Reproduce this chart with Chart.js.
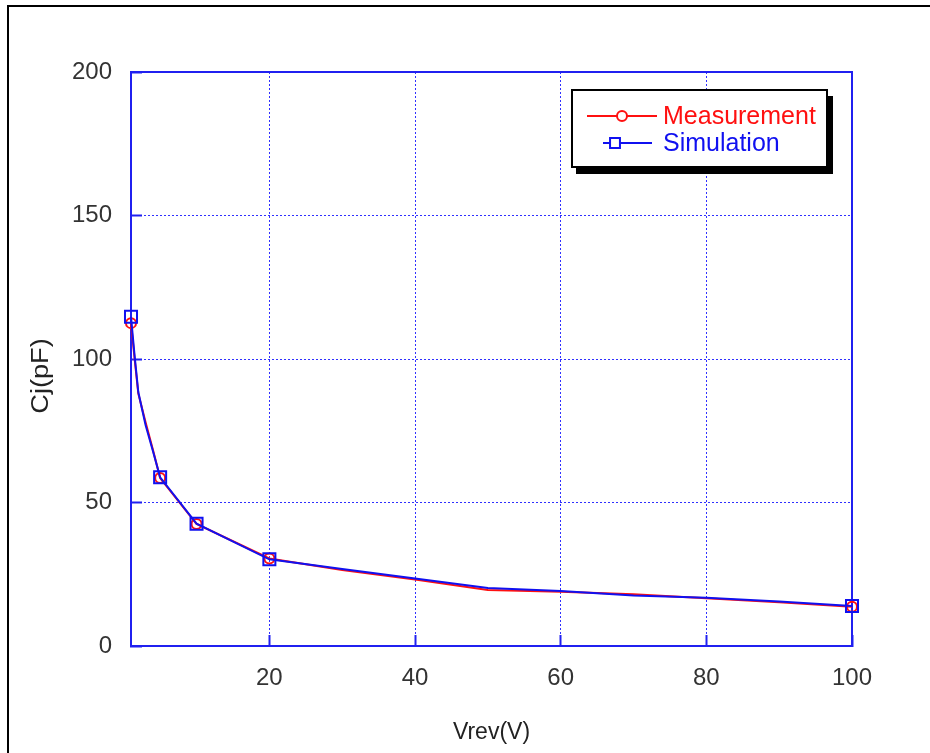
<!DOCTYPE html>
<html>
<head>
<meta charset="utf-8">
<title>Cj vs Vrev</title>
<script src="https://cdn.jsdelivr.net/npm/chart.js@4"></script>
<style>
  html, body { margin: 0; padding: 0; background: #fff; }
  canvas { display: block; }
</style>
</head>
<body>
<canvas id="cjChart" width="930" height="753"></canvas>
<script>
// Data
const vrev = [1, 1.5, 2, 3, 4, 5, 10, 20, 30, 40, 50, 60, 70, 80, 90, 100];
const measured = [112.5, 100, 88, 78, 68.5, 58.5, 42.5, 30.5, 26.5, 23.2, 19.5, 18.9, 18.0, 16.6, 15.2, 13.7];
const simulated = [114.7, 101, 88.5, 77, 68, 58.8, 42.6, 30.2, 26.8, 23.5, 20.2, 19.2, 17.6, 16.8, 15.5, 13.9];
const markerAt = [1, 5, 10, 20, 100];
const xTicks = [20, 40, 60, 80, 100];
const yTicks = [0, 50, 100, 150, 200];
const yTitle = 'Cj(pF)';

const AXIS_BLUE = '#2020f0';
const GRID_BLUE = '#3030ff';
const RED = '#ff1010';
const BLUE = '#1010f0';
const FONT = "'Liberation Sans', Arial, sans-serif";

const points = vals => vals.map((v, i) => ({ x: vrev[i], y: v }));
const markerRadius = r => ctx => markerAt.includes(vrev[ctx.dataIndex]) ? r : 0;

// black window frame on the left and top
const framePlugin = {
  id: 'frame',
  beforeDraw(chart) {
    const ctx = chart.ctx;
    ctx.save();
    ctx.fillStyle = '#fff';
    ctx.fillRect(0, 0, chart.width, chart.height);
    ctx.fillStyle = '#000';
    ctx.fillRect(7, 5, 2, chart.height);
    ctx.fillRect(7, 5, chart.width, 2);
    ctx.restore();
  }
};

// y title, a little stretched along its length like the original bitmap font
const yTitlePlugin = {
  id: 'yTitle',
  afterDraw(chart) {
    const ctx = chart.ctx;
    ctx.save();
    ctx.translate(42, 376);
    ctx.rotate(-Math.PI / 2);
    ctx.scale(1.18, 1);
    ctx.font = '23px ' + FONT;
    ctx.fillStyle = '#222';
    ctx.textAlign = 'center';
    ctx.textBaseline = 'middle';
    ctx.fillText(yTitle, 0, 0);
    ctx.restore();
  }
};

// boxed legend with drop shadow inside the plot
const boxLegend = {
  id: 'boxLegend',
  afterDraw(chart) {
    const ctx = chart.ctx;
    const x = 572, y = 90, w = 255, h = 77;
    ctx.save();
    ctx.fillStyle = '#000';
    ctx.fillRect(x + 4, y + 6, w + 2, h + 1);
    ctx.fillStyle = '#fff';
    ctx.fillRect(x, y, w, h);
    ctx.lineWidth = 2;
    ctx.strokeStyle = '#000';
    ctx.strokeRect(x, y, w, h);

    ctx.font = '25px ' + FONT;
    ctx.textBaseline = 'middle';
    chart.data.datasets.forEach((ds, i) => {
      const cy = y + 26 + i * 27;
      ctx.strokeStyle = ds.borderColor;
      ctx.lineWidth = 2;
      ctx.beginPath();
      if (i === 0) {
        ctx.moveTo(x + 15, cy); ctx.lineTo(x + 85, cy);
      } else {
        ctx.moveTo(x + 31, cy); ctx.lineTo(x + 38, cy);
        ctx.moveTo(x + 48, cy); ctx.lineTo(x + 80, cy);
      }
      ctx.stroke();
      ctx.fillStyle = '#fff';
      Chart.helpers.drawPoint(ctx, {
        pointStyle: ds.pointStyle,
        radius: i === 0 ? 5 : 7,
        borderWidth: 2
      }, x + (i === 0 ? 50 : 43), cy);
      ctx.fillStyle = ds.borderColor;
      ctx.fillText(ds.label, x + 91, cy + 1);
    });
    ctx.restore();
  }
};

new Chart(document.getElementById('cjChart').getContext('2d'), {
  type: 'line',
  data: {
    datasets: [
      {
        label: 'Measurement',
        data: points(measured),
        borderColor: RED,
        backgroundColor: 'rgba(0,0,0,0)',
        borderWidth: 2,
        pointStyle: 'circle',
        pointRadius: markerRadius(5),
        pointBorderWidth: 2,
        pointBorderColor: RED,
        pointBackgroundColor: 'rgba(0,0,0,0)',
        tension: 0,
        clip: false,
        order: 1
      },
      {
        label: 'Simulation',
        data: points(simulated),
        borderColor: BLUE,
        backgroundColor: 'rgba(0,0,0,0)',
        borderWidth: 2,
        pointStyle: 'rect',
        pointRadius: markerRadius(8.5),
        pointBorderWidth: 2,
        pointBorderColor: BLUE,
        pointBackgroundColor: 'rgba(0,0,0,0)',
        tension: 0,
        clip: false,
        order: 0
      }
    ]
  },
  options: {
    responsive: false,
    animation: false,
    layout: { padding: { left: 0, top: 72, right: 78, bottom: 0 } },
    plugins: {
      legend: { display: false },
      tooltip: { enabled: false }
    },
    scales: {
      x: {
        type: 'linear',
        position: 'bottom',
        min: 1,
        max: 100,
        afterBuildTicks: axis => { axis.ticks = xTicks.map(v => ({ value: v })); },
        afterFit: axis => { axis.height = 107; },
        grid: { color: GRID_BLUE, lineWidth: 1, tickLength: -11, tickColor: AXIS_BLUE, tickWidth: 2 },
        border: { color: AXIS_BLUE, width: 2, dash: [2, 2] },
        ticks: { color: '#333', font: { family: FONT, size: 24 }, padding: 29, maxRotation: 0 },
        title: { display: true, text: 'Vrev(V)', color: '#222', font: { family: FONT, size: 23 }, padding: { top: 0, bottom: 7 } }
      },
      y: {
        type: 'linear',
        position: 'left',
        min: 0,
        max: 200,
        afterBuildTicks: axis => { axis.ticks = yTicks.map(v => ({ value: v })); },
        afterFit: axis => { axis.width = 131; },
        grid: { color: GRID_BLUE, lineWidth: 1, tickLength: -11, tickColor: AXIS_BLUE, tickWidth: 2 },
        border: { color: AXIS_BLUE, width: 2, dash: [2, 2] },
        ticks: { color: '#333', font: { family: FONT, size: 24 }, padding: 30 },
        title: { display: false }
      },
      xTop: {
        type: 'linear',
        position: 'top',
        min: 1,
        max: 100,
        afterFit: axis => { axis.height = 0; },
        grid: { display: false, drawTicks: false },
        border: { color: AXIS_BLUE, width: 2 },
        ticks: { display: false }
      },
      yRight: {
        type: 'linear',
        position: 'right',
        min: 0,
        max: 200,
        afterFit: axis => { axis.width = 0; },
        grid: { display: false, drawTicks: false },
        border: { color: AXIS_BLUE, width: 2 },
        ticks: { display: false }
      }
    }
  },
  plugins: [framePlugin, boxLegend, yTitlePlugin]
});
</script>
</body>
</html>
